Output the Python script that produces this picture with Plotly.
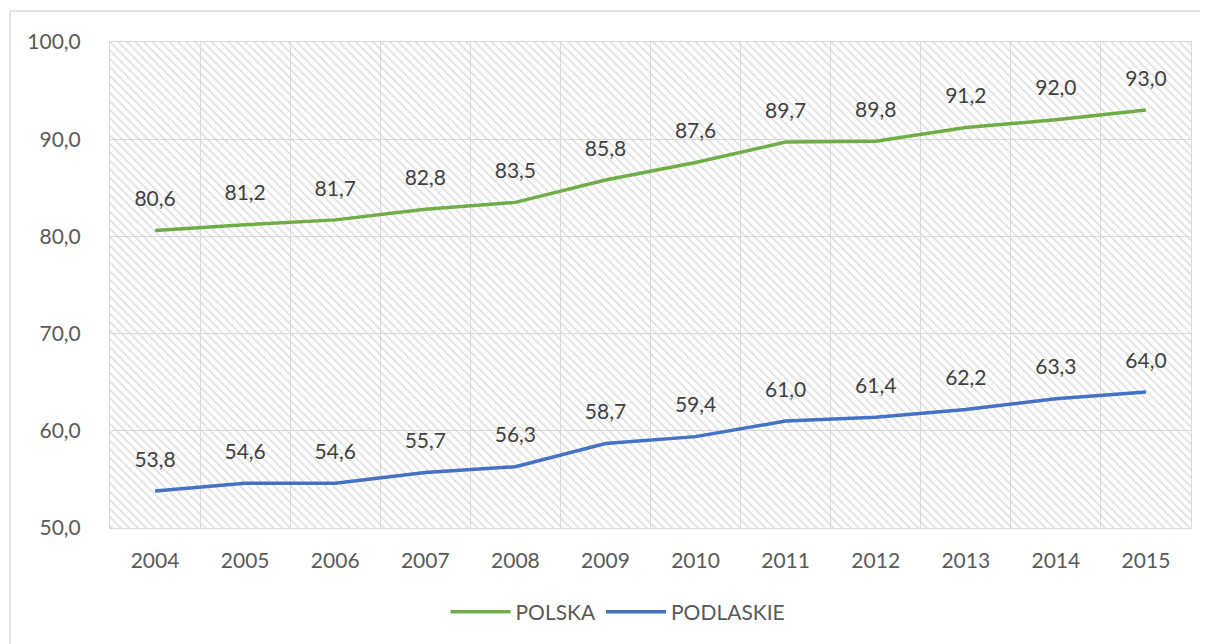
import plotly.graph_objects as go

years = ["2004", "2005", "2006", "2007", "2008", "2009", "2010", "2011", "2012", "2013", "2014", "2015"]
polska = [80.6, 81.2, 81.7, 82.8, 83.5, 85.8, 87.6, 89.7, 89.8, 91.2, 92.0, 93.0]
podlaskie = [53.8, 54.6, 54.6, 55.7, 56.3, 58.7, 59.4, 61.0, 61.4, 62.2, 63.3, 64.0]
y_min, y_max = 50, 100

# the page body has an 8px margin, so the figure is a bit smaller and shifted
OFF = 8
W, H = 1200, 636
L, R, T, B = 102, 17, 34, 116
pw, ph = W - L - R, H - T - B

font = "Lato, Carlito, Calibri, 'Open Sans', sans-serif"
txt = "#595959"
lbl = "#404040"
FS = 21

def fmt(v):
    return f"{v:.1f}".replace(".", ",")

fig = go.Figure()

# hatched plot-area background
fig.add_trace(go.Bar(
    x=years, y=[y_max - y_min] * len(years), base=y_min, width=1,
    marker=dict(color="rgba(0,0,0,0)", line=dict(width=0),
                pattern=dict(shape="\\", fgcolor="#d8d8d8", bgcolor="rgba(0,0,0,0)",
                             size=6, solidity=0.22, fillmode="replace")),
    showlegend=False, hoverinfo="skip",
))

for name, vals, col in [("POLSKA", polska, "#70AD47"), ("PODLASKIE", podlaskie, "#4472C4")]:
    fig.add_trace(go.Scatter(
        x=years, y=vals, mode="lines", name=name,
        line=dict(color=col, width=3.5), hoverinfo="skip",
    ))
    # data labels (invisible markers push the text up)
    fig.add_trace(go.Scatter(
        x=years, y=vals, mode="markers+text", showlegend=False, hoverinfo="skip",
        marker=dict(size=29, opacity=0, color=col),
        text=[fmt(v) for v in vals], textposition="top center",
        textfont=dict(size=FS, color=lbl, family=font), cliponaxis=False,
    ))

def px_x(x):
    return (x - OFF - L) / pw

def px_y(y):
    return (H - B - (y - OFF)) / ph

fig.update_layout(
    width=W, height=H,
    margin=dict(l=L, r=R, t=T, b=B),
    paper_bgcolor="white", plot_bgcolor="white",
    separators=", ",
    font=dict(family=font, size=FS, color=txt),
    bargap=0,
    xaxis=dict(type="category", tickson="boundaries", showgrid=True,
               gridcolor="#d9d9d9", gridwidth=1, ticks="", showline=True,
               linecolor="#d9d9d9", mirror=True, range=[-0.5, len(years) - 0.5],
               tickfont=dict(size=FS, color=txt), ticklabelstandoff=14),
    yaxis=dict(range=[y_min, y_max], dtick=10, tickformat=".1f", showgrid=True,
               gridcolor="#d9d9d9", gridwidth=1, showline=True, linecolor="#d9d9d9",
               mirror=True, zeroline=False, ticks="",
               tickfont=dict(size=FS, color=txt), ticklabelstandoff=24),
    legend=dict(orientation="h", x=px_x(618), xanchor="center", y=px_y(612), yanchor="middle",
                font=dict(size=FS, color=txt), itemwidth=60, tracegroupgap=0),
    showlegend=True,
    shapes=[dict(type="rect", xref="paper", yref="paper",
                 x0=px_x(10), x1=px_x(1202), y0=px_y(660), y1=px_y(11),
                 line=dict(color="#d9d9d9", width=1.5), layer="below")],
)

fig.write_html("out.html")
